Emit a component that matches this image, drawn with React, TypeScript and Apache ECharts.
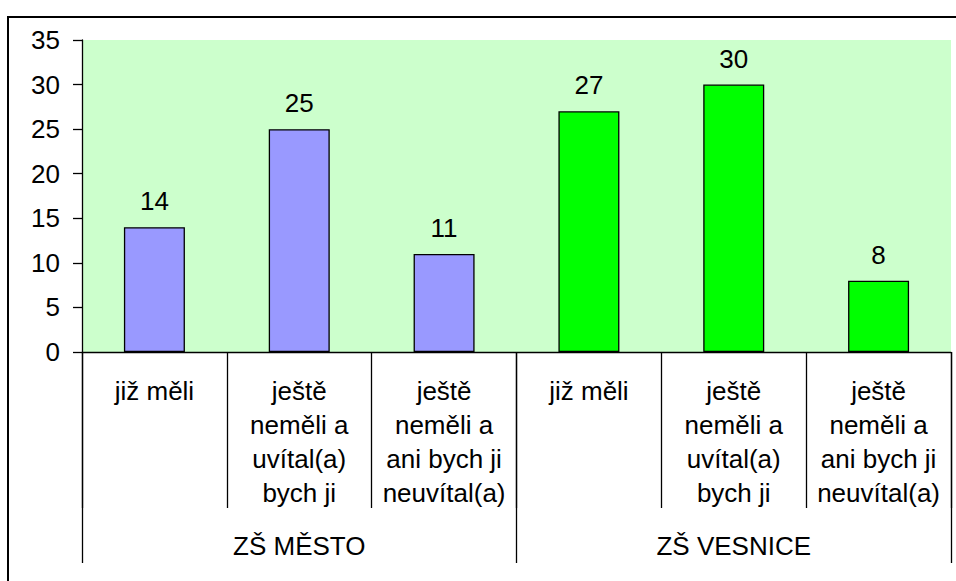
import React, { useEffect, useRef } from "react";
import * as echarts from "echarts";

const categories = [
  "již měli",
  "ještě\nneměli a\nuvítal(a)\nbych ji",
  "ještě\nneměli a\nani bych ji\nneuvítal(a)",
  "již měli",
  "ještě\nneměli a\nuvítal(a)\nbych ji",
  "ještě\nneměli a\nani bych ji\nneuvítal(a)",
];
const groups = ["ZŠ MĚSTO", "ZŠ VESNICE"];
const groupOfCategory = [0, 0, 0, 1, 1, 1];
const values = [14, 25, 11, 27, 30, 8];
const groupColors = ["#9999FF", "#00FF00"];
const yTicks = { min: 0, max: 35, interval: 5 };

const FONT = "'Liberation Sans', Arial, sans-serif";
const FS = 26;

export default function App() {
  const ref = useRef<HTMLDivElement>(null);
  useEffect(() => {
    if (!ref.current) return;
    const chart = echarts.init(ref.current, null, { renderer: "svg" });
    chart.setOption({
      animation: false,
      backgroundColor: "#ffffff",
      textStyle: { fontFamily: FONT },
      graphic: [
        {
          type: "rect",
          shape: { x: 8, y: 17, width: 1000, height: 700 },
          style: { fill: "none", stroke: "#000", lineWidth: 2 },
          silent: true,
          z: 100,
        },
      ],
      grid: {
        left: 82,
        top: 40,
        width: 869,
        height: 312,
        show: true,
        backgroundColor: "#CCFFCC",
        borderWidth: 0,
        containLabel: false,
      },
      xAxis: [
        {
          type: "category",
          data: categories,
          position: "bottom",
          axisLine: { show: true, lineStyle: { color: "#000", width: 1.3 } },
          axisTick: { show: true, interval: 0, length: 156, lineStyle: { color: "#000", width: 1.3 } },
          axisLabel: {
            interval: 0,
            color: "#000",
            fontSize: FS,
            lineHeight: 34,
            margin: 22,
            fontFamily: FONT,
            align: "center",
            verticalAlign: "top",
          },
          splitLine: { show: false },
        },
        {
          type: "category",
          data: groups,
          position: "bottom",
          axisLine: { show: false },
          axisTick: { show: true, interval: 0, length: 211, lineStyle: { color: "#000", width: 1.3 } },
          axisLabel: {
            interval: 0,
            color: "#000",
            fontSize: FS,
            lineHeight: 34,
            margin: 177,
            fontFamily: FONT,
            verticalAlign: "top",
          },
          splitLine: { show: false },
        },
      ],
      yAxis: {
        type: "value",
        min: yTicks.min,
        max: yTicks.max,
        interval: yTicks.interval,
        axisLine: { show: true, lineStyle: { color: "#000", width: 1.3 } },
        axisTick: { show: true, length: 9, lineStyle: { color: "#000", width: 1.3 } },
        axisLabel: { color: "#000", fontSize: FS, margin: 22, fontFamily: FONT },
        splitLine: { show: false },
      },
      series: [
        {
          type: "bar",
          xAxisIndex: 0,
          yAxisIndex: 0,
          barWidth: 61,
          data: values.map((v, i) => ({
            value: v,
            itemStyle: {
              color: groupColors[groupOfCategory[i]],
              borderColor: "#000",
              borderWidth: 1.3,
            },
          })),
          label: {
            show: true,
            position: "top",
            distance: 13,
            color: "#000",
            fontSize: FS,
            fontFamily: FONT,
          },
        },
      ],
    });
    return () => chart.dispose();
  }, []);
  return (
    <div
      ref={ref}
      style={{ position: "fixed", left: 0, top: 0, width: 956, height: 581 }}
    />
  );
}
